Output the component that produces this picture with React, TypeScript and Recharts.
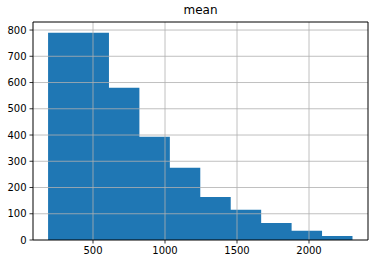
import { ComposedChart, Area, XAxis, YAxis, ReferenceLine } from "recharts";

// histogram of "mean", 10 bins
const binEdges = [188, 399.4, 610.8, 822.2, 1033.6, 1245, 1456.4, 1667.8, 1879.2, 2090.6, 2302];
const counts = [790, 790, 580, 393, 275, 164, 115, 65, 35, 15];
const xTicks = [500, 1000, 1500, 2000];
const yTicks = [0, 100, 200, 300, 400, 500, 600, 700, 800];
const xLimits = [83.3, 2409.7];
const yLimits = [0, 830.6];

// step area: each edge carries the count of the bin to its right, last edge closes the shape
const data = binEdges.map((edge, i) => ({
  edge,
  count: i < counts.length ? counts[i] : counts[counts.length - 1],
}));

const font = { fontSize: 10, fill: "#000", fontFamily: "DejaVu Sans" };
const gridLine = { stroke: "#b0b0b0", strokeWidth: 0.8 };
const spine = { stroke: "#000", strokeWidth: 1 };

export default function App() {
  return (
    <div style={{ position: "fixed", left: 0, top: 0, width: 375, height: 264, background: "#fff" }}>
      <div
        style={{
          position: "absolute",
          left: 33,
          width: 335,
          top: 3,
          textAlign: "center",
          fontFamily: "DejaVu Sans",
          fontSize: 12,
          color: "#000",
        }}
      >
        mean
      </div>
      <ComposedChart width={375} height={264} data={data} margin={{ top: 22, right: 7, bottom: 0, left: 0 }}>
        <Area
          type="stepAfter"
          dataKey="count"
          fill="#1f77b4"
          fillOpacity={1}
          stroke="none"
          isAnimationActive={false}
        />
        {/* grid drawn over the bars, as matplotlib does */}
        {xTicks.map((t) => (
          <ReferenceLine key={"x" + t} x={t} {...gridLine} />
        ))}
        {yTicks.slice(1).map((t) => (
          <ReferenceLine key={"y" + t} y={t} {...gridLine} />
        ))}
        {/* top and right spines */}
        <ReferenceLine y={yLimits[1]} {...spine} />
        <ReferenceLine x={xLimits[1]} {...spine} />
        <XAxis
          dataKey="edge"
          type="number"
          domain={xLimits}
          ticks={xTicks}
          allowDataOverflow
          height={24}
          tick={font}
          tickSize={3.5}
          tickMargin={3}
          axisLine={spine}
          tickLine={{ stroke: "#000", strokeWidth: 0.8 }}
        />
        <YAxis
          type="number"
          domain={yLimits}
          ticks={yTicks}
          allowDataOverflow
          width={33}
          tick={font}
          tickSize={3.5}
          tickMargin={3}
          axisLine={spine}
          tickLine={{ stroke: "#000", strokeWidth: 0.8 }}
        />
      </ComposedChart>
    </div>
  );
}
